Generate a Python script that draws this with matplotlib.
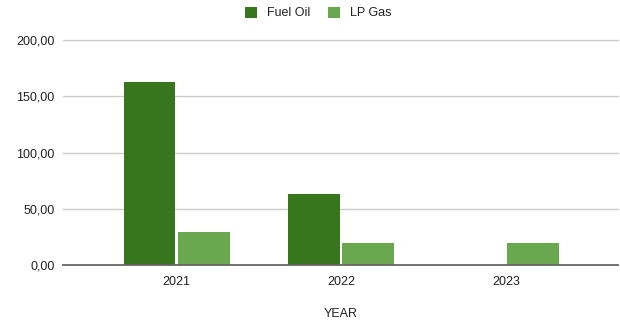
import matplotlib
matplotlib.use("Agg")
import matplotlib.pyplot as plt
import numpy as np

years = ["2021", "2022", "2023"]
fuel_oil = [162.4, 63.3, 0.0]
lp_gas = [29.3, 19.8, 19.6]
y_ticks = [0, 50, 100, 150, 200]

plt.rcParams['font.family'] = ['Liberation Sans', 'DejaVu Sans']

fig = plt.figure(figsize=(6.2, 3.22), dpi=100)
ax = fig.add_axes([63 / 620, 1 - 265.3 / 322, 555 / 620, 225.3 / 322])

x = np.arange(len(years))
w = 0.315
gap = 0.007
ax.bar(x - w / 2 - gap, fuel_oil, width=w, color="#38761d", label="Fuel Oil", zorder=3)
ax.bar(x + w / 2 + gap, lp_gas, width=w, color="#6aa84f", label="LP Gas", zorder=3)

ax.set_xlim(-0.69, 2.68)
ax.set_ylim(0, 200)
ax.set_yticks(y_ticks)
ax.set_yticklabels([f"{v:.2f}".replace(".", ",") for v in y_ticks])
ax.set_xticks(x)
ax.set_xticklabels(years)

for v in y_ticks[1:]:
    ax.axhline(v, color="#cccccc", lw=1, zorder=1, clip_on=False)
ax.axhline(0, color="#666666", lw=1.3, zorder=4, clip_on=False)

for s in ax.spines.values():
    s.set_visible(False)
ax.tick_params(axis="both", length=0, labelsize=9, colors="#222222")
ax.tick_params(axis="y", pad=6)
ax.tick_params(axis="x", pad=8)

ax.set_xlabel("YEAR", fontsize=9, color="#222222", labelpad=14)

fig.legend(loc="center", bbox_to_anchor=(318.5 / 620, 1 - 13 / 322), ncol=2, frameon=False,
           fontsize=9, handlelength=0.95, handleheight=1.0, handletextpad=0.8,
           columnspacing=1.45, labelcolor="#222222", borderaxespad=0, borderpad=0)

fig.savefig("out.png", dpi=100, facecolor="white")
